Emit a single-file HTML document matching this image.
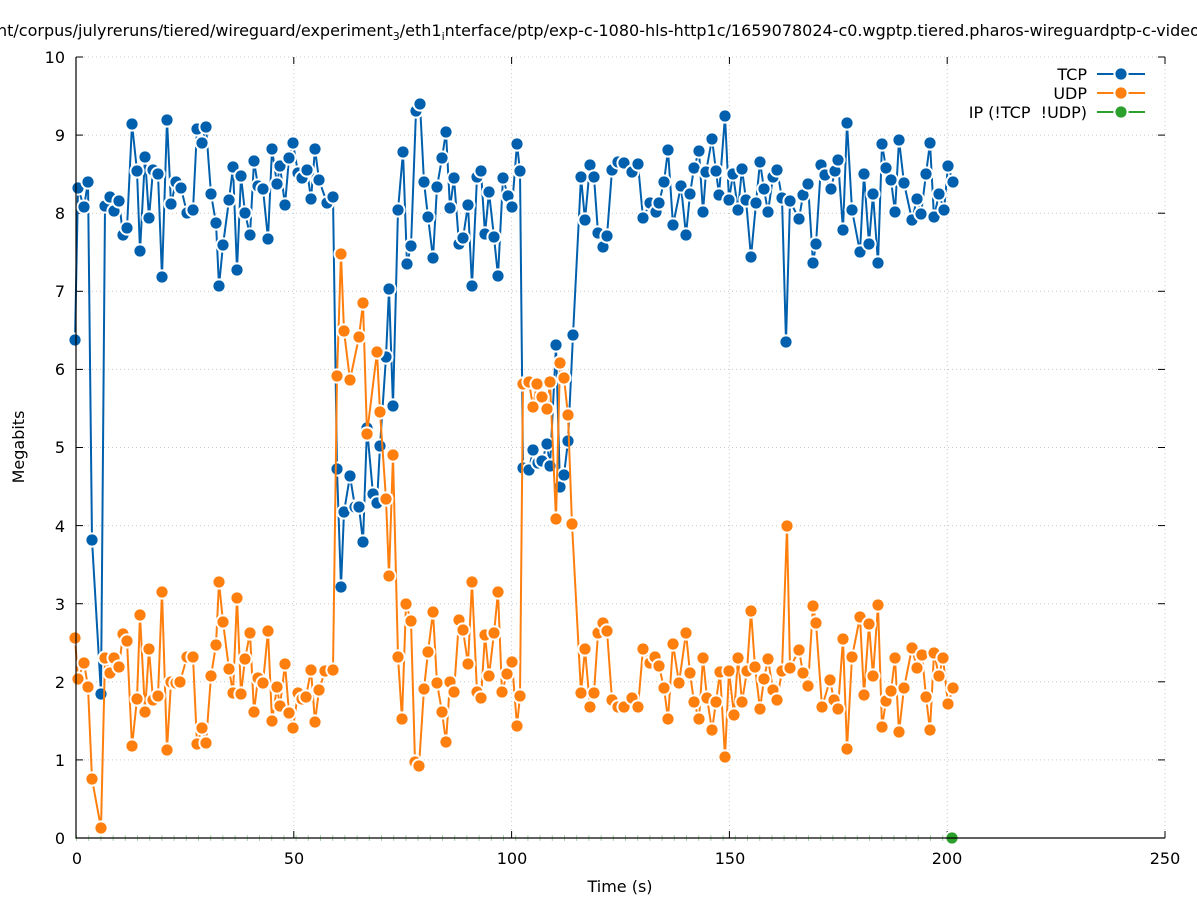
<!DOCTYPE html>
<html><head><meta charset="utf-8"><style>
html,body{margin:0;padding:0;background:#fff;}
svg{display:block;font-family:"DejaVu Sans","Liberation Sans",sans-serif;}
</style></head><body>
<svg width="1197" height="900" viewBox="0 0 1197 900" xmlns="http://www.w3.org/2000/svg">
<defs>
<marker id="mb" markerWidth="18" markerHeight="18" refX="9" refY="9" markerUnits="userSpaceOnUse" viewBox="0 0 18 18" overflow="visible"><circle cx="9" cy="9" r="7.6" fill="#fff"/><circle cx="9" cy="9" r="5.6" fill="#0060ad"/></marker>
<marker id="mo" markerWidth="18" markerHeight="18" refX="9" refY="9" markerUnits="userSpaceOnUse" viewBox="0 0 18 18" overflow="visible"><circle cx="9" cy="9" r="7.6" fill="#fff"/><circle cx="9" cy="9" r="5.6" fill="#ff7f0e"/></marker>
</defs>
<rect width="1197" height="900" fill="#fff"/>
<text x="-3" y="36" font-size="16" fill="#000">nt/corpus/julyreruns/tiered/wireguard/experiment<tspan font-size="11" dy="4">3</tspan><tspan dy="-4">/eth1</tspan><tspan font-size="11" dy="4">i</tspan><tspan dy="-4">nterface/ptp/exp-c-1080-hls-http1c/1659078024-c0.wgptp.tiered.pharos-wireguardptp-c-video</tspan></text>
<g stroke="#c8c8c8" stroke-width="1" stroke-dasharray="1,3" fill="none">
<line x1="76" y1="759.9" x2="1165" y2="759.9"/>
<line x1="76" y1="681.8" x2="1165" y2="681.8"/>
<line x1="76" y1="603.7" x2="1165" y2="603.7"/>
<line x1="76" y1="525.6" x2="1165" y2="525.6"/>
<line x1="76" y1="447.5" x2="1165" y2="447.5"/>
<line x1="76" y1="369.4" x2="1165" y2="369.4"/>
<line x1="76" y1="291.3" x2="1165" y2="291.3"/>
<line x1="76" y1="213.2" x2="1165" y2="213.2"/>
<line x1="76" y1="135.1" x2="1165" y2="135.1"/>
<line x1="76" y1="57" x2="1165" y2="57"/>
<line x1="293.8" y1="57" x2="293.8" y2="838"/>
<line x1="511.6" y1="57" x2="511.6" y2="838"/>
<line x1="729.4" y1="57" x2="729.4" y2="838"/>
<line x1="947.2" y1="57" x2="947.2" y2="838"/>
<line x1="1165" y1="57" x2="1165" y2="838"/>
</g>
<g stroke="#000" stroke-width="1">
<line x1="76" y1="759.9" x2="83" y2="759.9"/><line x1="1165" y1="759.9" x2="1158" y2="759.9"/>
<line x1="76" y1="681.8" x2="83" y2="681.8"/><line x1="1165" y1="681.8" x2="1158" y2="681.8"/>
<line x1="76" y1="603.7" x2="83" y2="603.7"/><line x1="1165" y1="603.7" x2="1158" y2="603.7"/>
<line x1="76" y1="525.6" x2="83" y2="525.6"/><line x1="1165" y1="525.6" x2="1158" y2="525.6"/>
<line x1="76" y1="447.5" x2="83" y2="447.5"/><line x1="1165" y1="447.5" x2="1158" y2="447.5"/>
<line x1="76" y1="369.4" x2="83" y2="369.4"/><line x1="1165" y1="369.4" x2="1158" y2="369.4"/>
<line x1="76" y1="291.3" x2="83" y2="291.3"/><line x1="1165" y1="291.3" x2="1158" y2="291.3"/>
<line x1="76" y1="213.2" x2="83" y2="213.2"/><line x1="1165" y1="213.2" x2="1158" y2="213.2"/>
<line x1="76" y1="135.1" x2="83" y2="135.1"/><line x1="1165" y1="135.1" x2="1158" y2="135.1"/>
<line x1="76" y1="57" x2="83" y2="57"/><line x1="1165" y1="57" x2="1158" y2="57"/>
<line x1="293.8" y1="838" x2="293.8" y2="831"/><line x1="293.8" y1="57" x2="293.8" y2="64"/>
<line x1="511.6" y1="838" x2="511.6" y2="831"/><line x1="511.6" y1="57" x2="511.6" y2="64"/>
<line x1="729.4" y1="838" x2="729.4" y2="831"/><line x1="729.4" y1="57" x2="729.4" y2="64"/>
<line x1="947.2" y1="838" x2="947.2" y2="831"/><line x1="947.2" y1="57" x2="947.2" y2="64"/>
<line x1="1165" y1="838" x2="1165" y2="831"/><line x1="1165" y1="57" x2="1165" y2="64"/>
</g>
<line x1="76" y1="838" x2="952" y2="838" stroke="#a8d8a8" stroke-width="6" stroke-dasharray="1,11.2"/>
<polyline fill="none" stroke="#0060ad" stroke-width="2" stroke-linejoin="miter" marker-start="url(#mb)" marker-mid="url(#mb)" marker-end="url(#mb)" points="75,340 78,188 84,207 88,182 92,540 101,694 105,206 110,197 114,211 119,201 123,235 127,228 132,124 137,171 140,251 145,157 149,218 153,170 158,174 162,277 167,120 171,204 176,182 181,188 187,213 193,210 197,129 202,143 206,127 211,194 216,223 219,286 223,245 229,200 233,167 237,270 241,176 245,213 250,235 254,161 258,186 263,189 268,239 272,149 277,184 280,166 285,205 289,158 293,143 298,173 302,178 307,170 311,199 315,149 319,180 327,203 333,197 337,469 341,587 344,512 350,476 355,507 359,507 363,542 367,428 373,494 377,503 380,446 386,357 389,289 393,406 398,210 403,152 407,264 411,246 416,111 420,104 424,182 428,217 433,258 437,187 442,158 446,132 450,208 454,178 459,244 463,238 468,205 472,286 477,177 481,171 485,234 489,192 494,237 498,276 503,178 508,196 512,207 517,144 520,171 523,468 529,470 533,450 538,463 542,461 547,444 550,466 556,345 560,487 564,475 568,441 573,335 581,177 585,220 590,165 594,177 598,233 603,247 607,236 612,170 618,162 624,163 632,172 638,164 643,218 650,203 656,212 659,203 664,182 668,150 673,225 681,186 686,235 690,194 694,168 699,151 703,212 706,172 712,139 716,171 719,195 725,116 729,200 733,174 738,210 742,169 746,200 751,257 756,203 760,162 764,189 768,212 773,177 777,170 782,198 786,342 790,201 799,219 803,195 808,184 813,263 816,244 821,165 825,175 831,189 835,171 838,160 843,230 847,123 852,210 860,252 864,174 869,244 873,194 878,263 882,144 886,168 891,180 895,212 899,140 904,183 912,220 917,199 921,214 926,174 930,143 934,217 939,194 944,210 948,166 953,182"/>
<polyline fill="none" stroke="#ff7f0e" stroke-width="2" stroke-linejoin="miter" marker-start="url(#mo)" marker-mid="url(#mo)" marker-end="url(#mo)" points="75,638 78,679 84,663 88,687 92,779 101,828 105,658 110,673 114,658 119,667 123,634 127,641 132,746 137,699 140,615 145,712 149,649 153,700 158,696 162,592 167,750 171,682 176,683 180,682 187,657 193,657 197,744 202,728 206,743 211,676 216,645 219,582 223,622 229,669 233,693 237,598 241,694 245,659 250,633 254,712 258,678 263,683 268,631 272,721 277,687 280,706 285,664 289,713 293,728 298,693 302,699 306,697 311,670 315,722 319,690 325,671 333,670 337,376 341,254 344,331 350,380 359,337 363,303 367,434 377,352 380,412 386,499 389,576 393,455 398,657 402,719 406,604 411,621 415,762 419,766 424,689 428,652 433,612 437,683 442,712 446,742 450,682 454,692 459,620 463,630 468,664 472,582 477,692 481,698 485,635 489,676 494,633 498,592 502,692 507,674 512,662 517,726 520,696 523,384 529,382 533,407 537,384 542,397 547,409 550,382 556,519 560,363 564,378 568,415 572,524 581,693 585,649 590,707 594,693 598,633 603,623 607,631 612,700 618,707 624,707 632,698 638,707 643,649 650,663 655,657 659,666 664,688 668,719 673,644 679,683 686,633 690,673 694,702 699,719 703,658 707,698 712,730 716,702 720,672 725,757 729,671 734,715 738,658 742,702 747,671 751,611 755,667 760,709 764,679 768,659 773,690 777,700 782,671 787,526 790,668 799,650 803,673 808,686 813,606 816,623 822,707 830,680 834,700 838,709 843,639 847,749 852,657 860,617 864,695 869,624 873,676 878,605 882,727 886,701 891,691 895,658 899,732 904,688 912,648 917,668 922,655 926,697 930,730 934,653 939,676 943,658 948,704 953,688"/>
<circle cx="952" cy="838" r="7.6" fill="#fff"/><circle cx="952" cy="838" r="5.6" fill="#2ca02c"/>
<g stroke="#000" stroke-width="1.2">
<line x1="76" y1="57" x2="76" y2="838.5"/>
<line x1="75.5" y1="838" x2="1165" y2="838"/>
</g>
<g font-size="16" fill="#000" text-anchor="end">
<text x="65" y="844">0</text>
<text x="65" y="766">1</text>
<text x="65" y="688">2</text>
<text x="65" y="610">3</text>
<text x="65" y="532">4</text>
<text x="65" y="453">5</text>
<text x="65" y="375">6</text>
<text x="65" y="297">7</text>
<text x="65" y="219">8</text>
<text x="65" y="141">9</text>
<text x="65" y="63">10</text>
</g>
<g font-size="16" fill="#000" text-anchor="middle">
<text x="77" y="864">0</text>
<text x="294" y="864">50</text>
<text x="512" y="864">100</text>
<text x="730" y="864">150</text>
<text x="947" y="864">200</text>
<text x="1165" y="864">250</text>
<text x="620" y="892">Time (s)</text>
<text transform="translate(24,447) rotate(-90)">Megabits</text>
</g>
<g font-size="16" fill="#000" text-anchor="end">
<text x="1087" y="80">TCP</text>
<text x="1087" y="99">UDP</text>
<text x="1087" y="118">IP (!TCP&#160; !UDP)</text>
</g>
<g stroke-width="2">
<line x1="1097" y1="74" x2="1145" y2="74" stroke="#0060ad"/>
<line x1="1097" y1="93" x2="1145" y2="93" stroke="#ff7f0e"/>
<line x1="1097" y1="112" x2="1145" y2="112" stroke="#2ca02c"/>
</g>
<circle cx="1121" cy="74" r="7.6" fill="#fff"/><circle cx="1121" cy="74" r="5.6" fill="#0060ad"/>
<circle cx="1121" cy="93" r="7.6" fill="#fff"/><circle cx="1121" cy="93" r="5.6" fill="#ff7f0e"/>
<circle cx="1121" cy="112" r="7.6" fill="#fff"/><circle cx="1121" cy="112" r="5.6" fill="#2ca02c"/>
</svg>
</body></html>
